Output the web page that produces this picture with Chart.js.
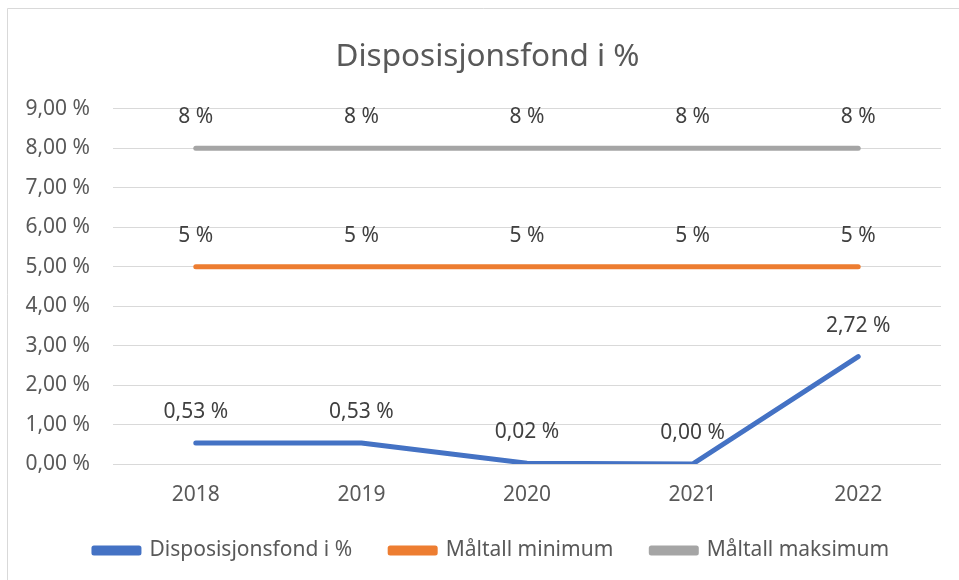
<!DOCTYPE html>
<html>
<head>
<meta charset="utf-8">
<script src="https://cdn.jsdelivr.net/npm/chart.js@4.4.0/dist/chart.umd.min.js"></script>
<style>
    html, body { margin: 0; padding: 0; background: #fff; }
    #wrap { width: 959px; height: 580px; }
</style>
</head>
<body>
<div id="wrap"><canvas id="fond-chart" width="959" height="580"></canvas></div>
<script>
// chart data
const years = ['2018', '2019', '2020', '2021', '2022'];
const fondValues = [0.53, 0.53, 0.02, 0.00, 2.72];
const minValues = [5, 5, 5, 5, 5];
const maxValues = [8, 8, 8, 8, 8];
const seriesNames = ['Disposisjonsfond i %', 'Måltall minimum', 'Måltall maksimum'];
const labelDecimals = [2, 0, 0];

const fmt = (v, d) => v.toFixed(d).replace('.', ',') + ' %';
const font = '"Noto Sans", "Open Sans", sans-serif';

// simple value labels above each point
const valueLabels = {
    id: 'valueLabels',
    afterDatasetsDraw(chart) {
        const ctx = chart.ctx;
        ctx.save();
        ctx.font = '21px ' + font;
        ctx.fillStyle = '#404040';
        ctx.textAlign = 'center';
        ctx.textBaseline = 'middle';
        chart.data.datasets.forEach((ds, i) => {
            chart.getDatasetMeta(i).data.forEach((pt, j) => {
                ctx.fillText(fmt(ds.data[j], labelDecimals[i]), pt.x, pt.y - 31);
            });
        });
        ctx.restore();
    }
};

// the original screenshot is cut off on the right, so title and legend sit a bit right of centre
const shiftBoxes = {
    id: 'shiftBoxes',
    afterLayout(chart) {
        chart.titleBlock.left += 17;
        chart.titleBlock.right += 17;
        chart.legend.left += 21;
        chart.legend.right += 21;
    }
};

// frame edges like the cropped screenshot
const frame = {
    id: 'frame',
    beforeDraw(chart) {
        const ctx = chart.ctx;
        ctx.save();
        ctx.fillStyle = '#fff';
        ctx.fillRect(0, 0, chart.width, chart.height);
        ctx.strokeStyle = '#d9d9d9';
        ctx.lineWidth = 1;
        ctx.beginPath();
        ctx.moveTo(7.5, chart.height);
        ctx.lineTo(7.5, 8.5);
        ctx.lineTo(chart.width, 8.5);
        ctx.stroke();
        ctx.restore();
    }
};

const colors = ['#4472C4', '#ED7D31', '#A5A5A5'];
const seriesData = [fondValues, minValues, maxValues];

const data = {
    labels: years,
    datasets: seriesData.map((vals, i) => ({
        label: seriesNames[i],
        data: vals,
        borderColor: colors[i],
        backgroundColor: colors[i],
        borderWidth: 5,
        borderCapStyle: 'round',
        borderJoinStyle: 'round',
        pointRadius: 0,
        pointHoverRadius: 0,
        tension: 0,
    }))
};

const config = {
    type: 'line',
    data: data,
    options: {
        responsive: false,
        animation: false,
        layout: {
            padding: { top: 0, left: 0, right: 18, bottom: 9 }
        },
        plugins: {
            tooltip: { enabled: false },
            title: {
                display: true,
                text: 'Disposisjonsfond i %',
                color: '#595959',
                font: { family: font, size: 31.5, weight: 'normal' },
                padding: { top: 38, bottom: 33 }
            },
            legend: {
                position: 'bottom',
                labels: {
                    color: '#595959',
                    font: { family: font, size: 21 },
                    boxWidth: 45,
                    boxHeight: 5,
                    padding: 38,
                }
            }
        },
        scales: {
            x: {
                offset: true,
                grid: { display: false, drawTicks: false },
                border: { display: false },
                ticks: {
                    color: '#595959',
                    font: { family: font, size: 21 },
                    padding: 18,
                    maxRotation: 0,
                },
                afterFit: (axis) => { axis.height = 38; }
            },
            y: {
                min: 0,
                max: 9,
                grid: { color: '#d9d9d9', drawTicks: false },
                border: { display: false },
                ticks: {
                    stepSize: 1,
                    color: '#595959',
                    font: { family: font, size: 21 },
                    padding: 23,
                    callback: (v) => fmt(v, 2)
                },
                afterFit: (axis) => { axis.width = 113; }
            }
        }
    },
    plugins: [frame, shiftBoxes, valueLabels]
};

const chart = new Chart(document.getElementById('fond-chart').getContext('2d'), config);
</script>
</body>
</html>
